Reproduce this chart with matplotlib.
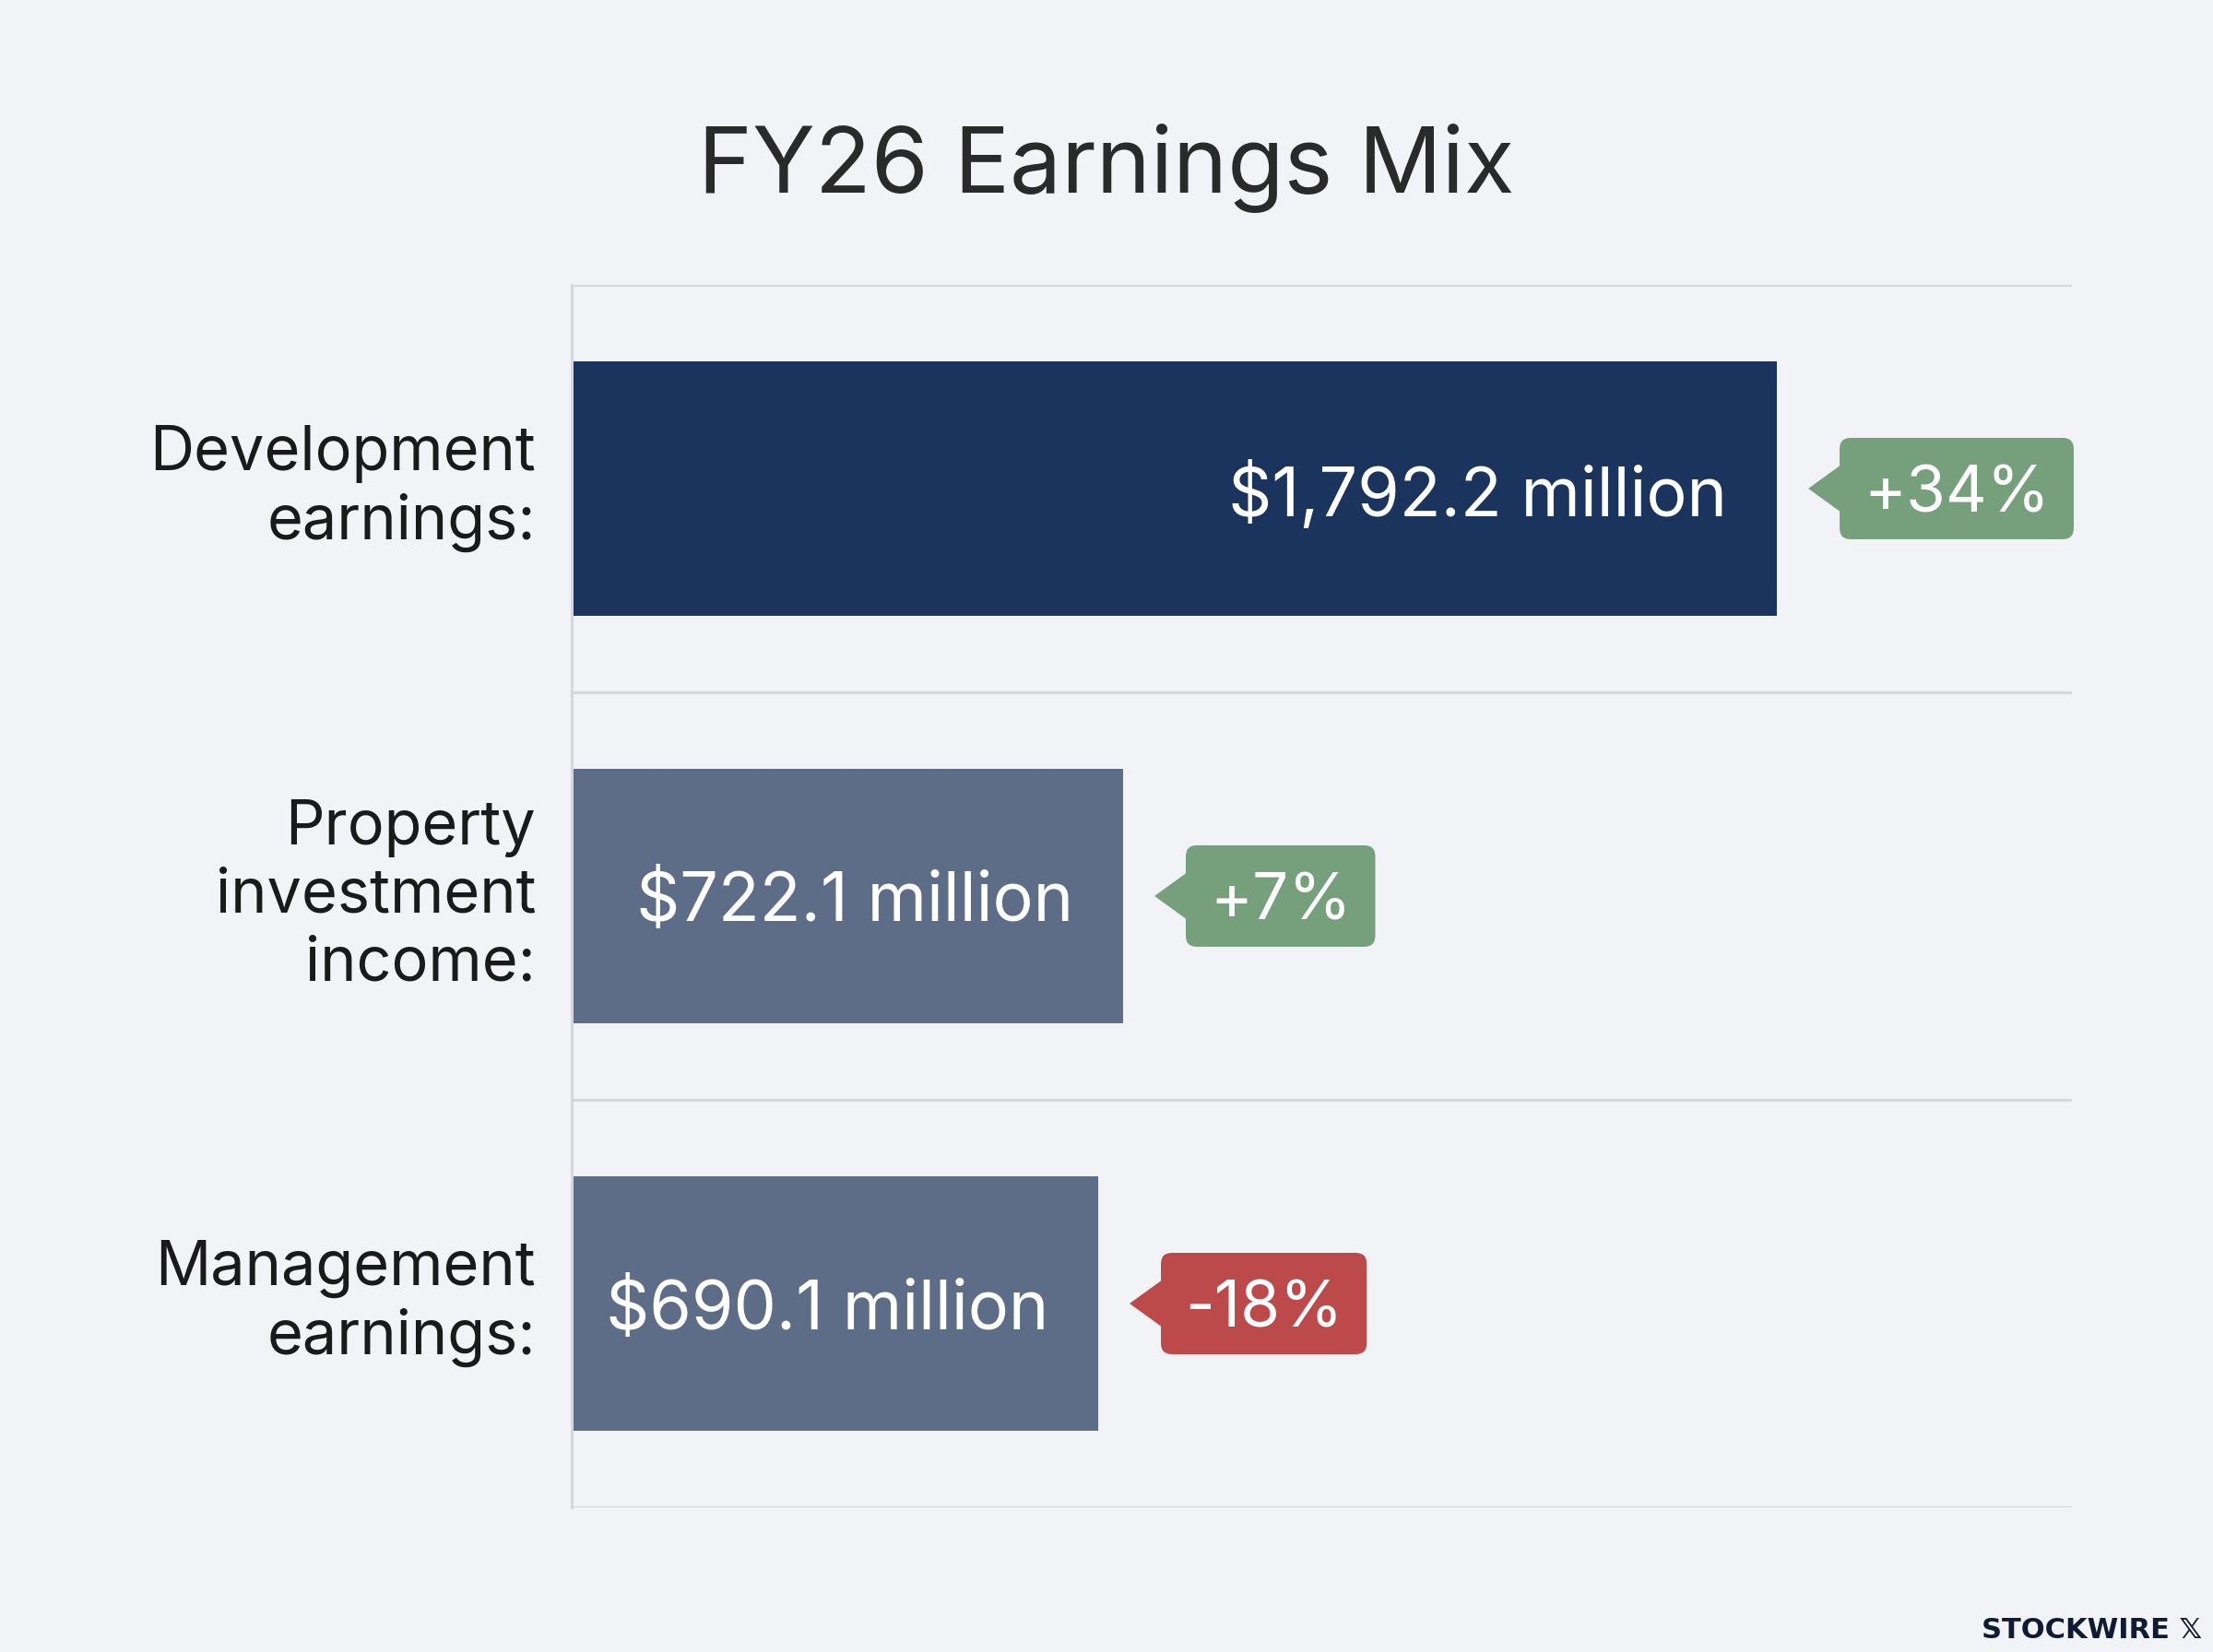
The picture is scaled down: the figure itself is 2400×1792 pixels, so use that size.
import numpy as np
import matplotlib.pyplot as plt
from matplotlib.patches import FancyBboxPatch, Polygon
from matplotlib.transforms import IdentityTransform

# data
categories = ['Development\nearnings:', 'Property\ninvestment\nincome:', 'Management\nearnings:']
values = [1792.2, 722.1, 690.1]
# bar lengths as drawn in the source picture (same scale as the top bar)
bar_lengths = [1792.2, 820, 783]
value_labels = ['$1,792.2 million', '$722.1 million', '$690.1 million']
changes = ['+34%', '+7%', '-18%']

bg = '#f1f3f6'
bar_colors = ['#1b345d', '#5e6d87', '#5e6d87']
badge_colors = ['#76a07b', '#76a07b', '#bd4a4a']
line_col = '#d4d7db'

plt.rcParams['font.family'] = ['Inter', 'DejaVu Sans']

fig = plt.figure(figsize=(12, 8.96), dpi=200, facecolor=bg)
ax = fig.add_axes([0.2583, 0.0876, 0.6780, 0.7400])
ax.set_facecolor(bg)

y = np.arange(len(values))
ax.barh(y, bar_lengths, height=0.626, color=bar_colors, zorder=2)
ax.set_xlim(0, 2231)
ax.set_ylim(2.5, -0.5)

# separators between rows
for yy in [-0.5, 0.5, 1.5, 2.5]:
    ax.axhline(yy, color=line_col, lw=1.1, zorder=1)
for s in ['top', 'right', 'bottom']:
    ax.spines[s].set_visible(False)
ax.spines['left'].set_color(line_col)
ax.spines['left'].set_linewidth(1.1)

ax.set_xticks([])
ax.set_yticks(y)
ax.set_yticklabels(categories, fontsize=24, color='#1a1a1a', linespacing=1.22, va='center')
ax.tick_params(axis='y', length=0, pad=14)

# value labels inside the bars
for i, v in enumerate(bar_lengths):
    ax.annotate(value_labels[i], (v, i), xytext=(-54, 0), textcoords='offset pixels',
                ha='right', va='center_baseline', fontsize=26.5, color='white', zorder=4)

# change badges
tip_gap, tip_w, hpad, box_h = 34, 34, 26, 110
badge_texts = []
for i, v in enumerate(bar_lengths):
    t = ax.annotate(changes[i], (v, i), xytext=(tip_gap + tip_w + hpad, 0),
                    textcoords='offset pixels', ha='left', va='center_baseline',
                    fontsize=25, color='white', zorder=5)
    badge_texts.append(t)

fig.canvas.draw()
renderer = fig.canvas.get_renderer()
for i, v in enumerate(bar_lengths):
    bb = badge_texts[i].get_window_extent(renderer)
    xe, yc = ax.transData.transform((v, i))
    x0 = xe + tip_gap + tip_w
    x1 = bb.x1 + hpad
    box = FancyBboxPatch((x0, yc - box_h / 2), x1 - x0, box_h,
                         boxstyle='round,pad=0,rounding_size=12',
                         fc=badge_colors[i], ec='none', transform=IdentityTransform(),
                         clip_on=False, zorder=3)
    tri = Polygon([[x0 + 2, yc + 26], [x0 + 2, yc - 26], [xe + tip_gap, yc]],
                  closed=True, fc=badge_colors[i], ec='none',
                  transform=IdentityTransform(), clip_on=False, zorder=3)
    ax.add_patch(box)
    ax.add_patch(tri)

fig.text(0.5, 0.898, 'FY26 Earnings Mix', ha='center', va='center',
         fontsize=36, color='#2a2a2a')
fig.text(0.995, 0.005, 'STOCKWIRE 𝕏', ha='right', va='bottom', fontsize=11,
         fontweight='bold', color='#0f1b33', family=['DejaVu Sans'])

fig.savefig('out.png', dpi=200, facecolor=bg)
